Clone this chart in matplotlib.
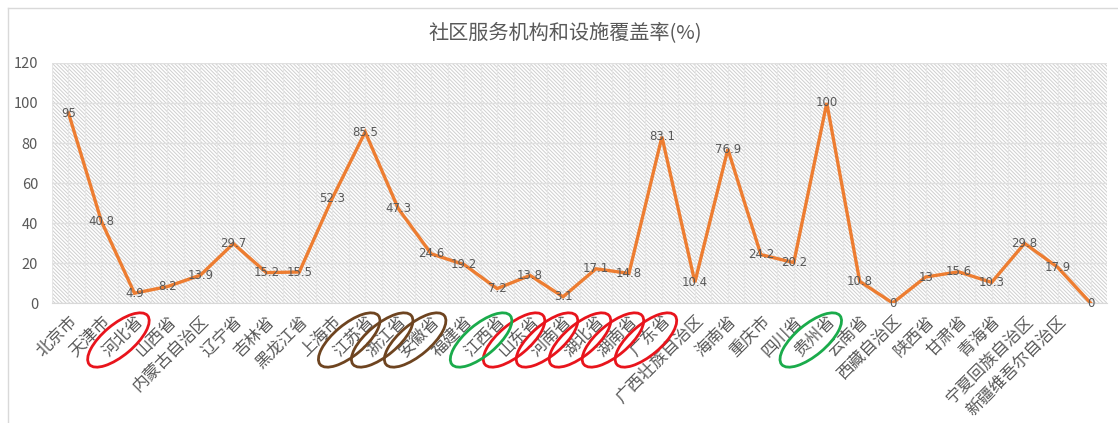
import numpy as np
import matplotlib
matplotlib.use("Agg")
import matplotlib.pyplot as plt
from matplotlib.patches import Ellipse
from matplotlib.lines import Line2D
from matplotlib.transforms import IdentityTransform

plt.rcParams['font.family'] = ['Noto Sans CJK SC', 'DejaVu Sans']
plt.rcParams['hatch.linewidth'] = 0.7
plt.rcParams['hatch.color'] = '#cfcfcf'

title = "社区服务机构和设施覆盖率(%)"
categories = ["北京市", "天津市", "河北省", "山西省", "内蒙古自治区", "辽宁省", "吉林省",
              "黑龙江省", "上海市", "江苏省", "浙江省", "安徽省", "福建省", "江西省",
              "山东省", "河南省", "湖北省", "湖南省", "广东省", "广西壮族自治区", "海南省",
              "重庆市", "四川省", "贵州省", "云南省", "西藏自治区", "陕西省", "甘肃省",
              "青海省", "宁夏回族自治区", "新疆维吾尔自治区", ""]
values = [95, 40.8, 4.9, 8.2, 13.9, 29.7, 15.2, 15.5, 52.3, 85.5, 47.3, 24.6, 19.2, 7.2,
          13.8, 3.1, 17.1, 14.8, 83.1, 10.4, 76.9, 24.2, 20.2, 100, 10.8, 0, 13, 15.6,
          10.3, 29.8, 17.9, 0]
value_labels = ["95", "40.8", "4.9", "8.2", "13.9", "29.7", "15.2", "15.5", "52.3", "85.5",
                "47.3", "24.6", "19.2", "7.2", "13.8", "3.1", "17.1", "14.8", "83.1", "10.4",
                "76.9", "24.2", "20.2", "100", "10.8", "0", "13", "15.6", "10.3", "29.8",
                "17.9", "0"]
yticks = [0, 20, 40, 60, 80, 100, 120]

circled_red = ["河北省", "山东省", "河南省", "湖北省", "湖南省", "广东省"]
circled_brown = ["江苏省", "浙江省", "安徽省"]
circled_green = ["江西省", "贵州省"]

W, H = 1118, 423
fig = plt.figure(figsize=(W / 100, H / 100), dpi=100)
fig.patch.set_facecolor('white')

ax = fig.add_axes([52 / W, 1 - 303 / H, (1107 - 52) / W, (303 - 63) / H])
ax.patch.set_facecolor('white')
ax.patch.set_hatch('\\' * 9)
ax.patch.set_edgecolor('#cfcfcf')

x = np.arange(len(categories))
ax.plot(x, values, color='#ED7D31', lw=2.4, solid_joinstyle='miter', zorder=3)
for xi, v, s in zip(x, values, value_labels):
    ax.text(xi, v, s, ha='center', va='center', fontsize=8.5, color='#595959',
            family=['DejaVu Sans'], zorder=4)

ax.set_xlim(-0.5, len(categories) - 0.5)
ax.set_ylim(0, 120)
ax.set_yticks(yticks)
ax.set_yticklabels([str(t) for t in yticks], fontsize=10.5, color='#595959')
ax.set_xticks(x)
ax.set_xticklabels(categories, rotation=45, ha='right', va='top',
                   rotation_mode='anchor', fontsize=12, color='#595959')
ax.set_xticks(np.arange(-0.5, len(categories), 1.0), minor=True)
ax.tick_params(axis='both', which='both', length=0)
ax.tick_params(axis='y', pad=10)
ax.tick_params(axis='x', pad=7)
ax.grid(True, axis='y', color='#e0e0e0', lw=1.0, zorder=1)
ax.grid(True, axis='x', which='both', color='#e6e6e6', lw=0.8, zorder=1)
ax.set_axisbelow(True)
for side in ['left', 'top', 'right']:
    ax.spines[side].set_visible(False)
ax.spines['bottom'].set_color('#d9d9d9')

fig.text(565 / W, 1 - 33 / H, title, ha='center', va='center', fontsize=14.5,
         color='#595959')

# chart-area border
fig.add_artist(Line2D([8 / W, 8 / W], [0, 1 - 8 / H], color='#d9d9d9', lw=1,
                      transform=fig.transFigure))
fig.add_artist(Line2D([8 / W, 1], [1 - 8 / H, 1 - 8 / H], color='#d9d9d9', lw=1,
                      transform=fig.transFigure))

# hand-drawn highlight ellipses around labels
colors = {}
for n in circled_red:
    colors[n] = '#e8141c'
for n in circled_brown:
    colors[n] = '#6e4420'
for n in circled_green:
    colors[n] = '#1aab4b'
for name, col in colors.items():
    i = categories.index(name)
    px, py = ax.transData.transform((i, 0))
    e = Ellipse((px - 16, py - 37), 76, 31, angle=40, fill=False, edgecolor=col,
                lw=2.0, transform=IdentityTransform())
    fig.add_artist(e)

fig.savefig('out.png', dpi=100)
